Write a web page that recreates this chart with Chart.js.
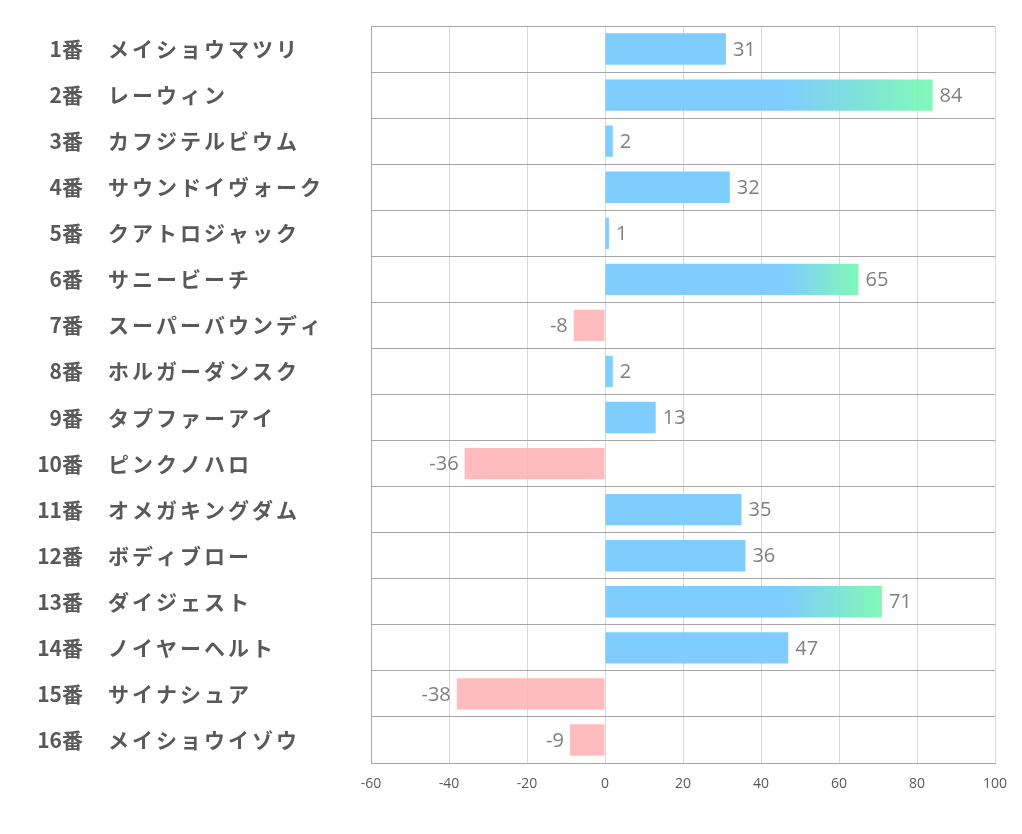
<!DOCTYPE html>
<html>
<head>
<meta charset="utf-8">
<script src="https://cdn.jsdelivr.net/npm/chart.js@4"></script>
<style>
  html, body { margin: 0; padding: 0; background: #fff; }
  #wrap { width: 1022px; height: 834px; }
</style>
</head>
<body>
<div id="wrap"><canvas id="chart-main"></canvas></div>
<script>
const numbers = ["1番", "2番", "3番", "4番", "5番", "6番", "7番", "8番", "9番", "10番", "11番", "12番", "13番", "14番", "15番", "16番"];
const horses = ["メイショウマツリ", "レーウィン", "カフジテルビウム", "サウンドイヴォーク", "クアトロジャック", "サニービーチ", "スーパーバウンディ", "ホルガーダンスク", "タプファーアイ", "ピンクノハロ", "オメガキングダム", "ボディブロー", "ダイジェスト", "ノイヤーヘルト", "サイナシュア", "メイショウイゾウ"];
const scores = [31, 84, 2, 32, 1, 65, -8, 2, 13, -36, 35, 36, 71, 47, -38, -9];
const xTicks = [-60, -40, -20, 0, 20, 40, 60, 80, 100];

const BLUE = "rgba(120, 201, 254, 0.95)";
const GREEN = "rgba(122, 248, 178, 0.95)";
const PINK = "rgba(255, 182, 185, 0.92)";

// left column labels + value labels
const labelPlugin = {
  id: "labels",
  afterDatasetsDraw(chart) {
    const ctx = chart.ctx;
    const y = chart.scales.y;
    const meta = chart.getDatasetMeta(0);
    ctx.save();
    ctx.textBaseline = "middle";
    numbers.forEach((n, i) => {
      const py = y.getPixelForValue(i);
      ctx.fillStyle = "#595959";
      ctx.font = "bold 21px 'Noto Sans CJK JP'";
      ctx.letterSpacing = "0px";
      ctx.textAlign = "right";
      ctx.fillText(n, 83, py);
      ctx.textAlign = "left";
      ctx.letterSpacing = "3px";
      ctx.fillText(horses[i], 108, py);
      ctx.letterSpacing = "0px";

      const bar = meta.data[i];
      const v = scores[i];
      ctx.fillStyle = "#7f7f7f";
      ctx.font = "20px 'Open Sans'";
      if (v >= 0) {
        ctx.textAlign = "left";
        ctx.fillText(String(v), bar.x + 7, py + 1);
      } else {
        ctx.textAlign = "right";
        ctx.fillText(String(v), bar.x - 6, py + 1);
      }
    });
    ctx.restore();
  },
};

new Chart(document.getElementById("chart-main"), {
  type: "bar",
  data: {
    labels: numbers,
    datasets: [
      {
        data: scores,
        backgroundColor: (c) => {
          const v = c.raw;
          if (v < 0) return PINK;
          if (v < 60) return BLUE;
          const chart = c.chart;
          if (!chart.chartArea) return BLUE;
          const xs = chart.scales.x;
          const g = chart.ctx.createLinearGradient(xs.getPixelForValue(46), 0, xs.getPixelForValue(v), 0);
          g.addColorStop(0, BLUE);
          g.addColorStop(1, GREEN);
          return g;
        },
        borderWidth: 0,
        barPercentage: 0.68,
        categoryPercentage: 1,
      },
    ],
  },
  options: {
    indexAxis: "y",
    responsive: true,
    maintainAspectRatio: false,
    animation: false,
    layout: { padding: { left: 371, right: 27, top: 26, bottom: 31 } },
    plugins: { legend: { display: false }, tooltip: { enabled: false } },
    scales: {
      x: {
        min: -60,
        max: 100,
        afterBuildTicks: (s) => { s.ticks = xTicks.map((v) => ({ value: v })); },
        afterFit: (s) => { s.height = 40; },
        grid: { color: "#d9d9d9", drawTicks: false },
        border: { color: "#a6a6a6" },
        ticks: { color: "#595959", font: { family: "Open Sans", size: 14 }, padding: 13 },
      },
      y: {
        afterFit: (s) => { s.width = 0; },
        grid: { color: "#a6a6a6", offset: true, drawTicks: false },
        border: { color: "#a6a6a6" },
        ticks: { display: false },
      },
    },
  },
  plugins: [labelPlugin],
});
</script>
</body>
</html>
